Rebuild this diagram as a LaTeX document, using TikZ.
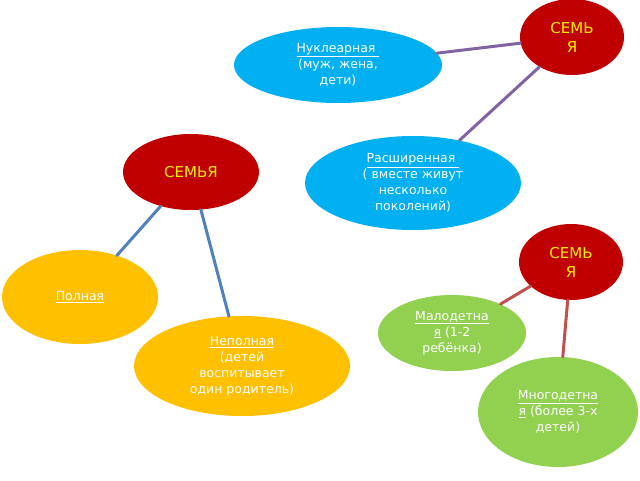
\documentclass[tikz,border=0pt]{standalone}
\usepackage{fontspec}
\setmainfont{DejaVu Sans}
\usetikzlibrary{shapes.geometric}
\newcommand\myul[1]{\underline{#1}}
\definecolor{sred}{HTML}{C00000}
\definecolor{scyan}{HTML}{00B0F0}
\definecolor{sorange}{HTML}{FFC000}
\definecolor{sgreen}{HTML}{92D050}
\definecolor{lpurple}{HTML}{8064A2}
\definecolor{lblue}{HTML}{4F81BD}
\definecolor{lred}{HTML}{C0504D}
\begin{document}
\begin{tikzpicture}[x=1pt,y=-1pt,
  el/.style={ellipse,inner sep=0pt,align=center,font=\fontsize{12.5}{16}\selectfont,text=white},
  fam/.style={el,fill=sred,text=yellow,font=\fontsize{15}{19}\selectfont},
  conn/.style={line width=3pt,line cap=round}]
\useasboundingbox[fill=white] (0,0) rectangle (640,480);
\node[fam,minimum width=104,minimum height=76] (f1) at (572,37) {СЕМЬ\\Я};
\node[el,fill=scyan,minimum width=208,minimum height=76] (nuc) at (338,65) {\myul{Нуклеарная }\\(муж, жена,\\дети)};
\node[el,fill=scyan,minimum width=216,minimum height=94] (ext) at (413,183) {\myul{Расширенная }\\( вместе живут\\несколько\\поколений)};
\node[fam,minimum width=136,minimum height=76] (f2) at (191,172) {СЕМЬЯ};
\node[el,fill=sorange,minimum width=156,minimum height=94] (full) at (80,297) {\myul{Полная}};
\node[el,fill=sorange,minimum width=216,minimum height=100] (inc) at (242,366) {\myul{Неполная}\\(детей\\воспитывает\\один родитель)};
\node[fam,minimum width=104,minimum height=76] (f3) at (571,262) {СЕМЬ\\Я};
\node[el,fill=sgreen,minimum width=148,minimum height=76] (small) at (452,333) {\myul{Малодетна}\\\myul{я} (1-2\\ребёнка)};
\node[el,fill=sgreen,minimum width=160,minimum height=110] (big) at (558,412) {\myul{Многодетна}\\\myul{я} (более 3-х\\детей)};
\draw[conn,lpurple] (nuc) -- (f1);
\draw[conn,lpurple] (ext) -- (f1);
\draw[conn,lblue] (f2) -- (full);
\draw[conn,lblue] (f2) -- (inc);
\draw[conn,lred] (f3) -- (small);
\draw[conn,lred] (f3) -- (big);
\end{tikzpicture}
\end{document}
